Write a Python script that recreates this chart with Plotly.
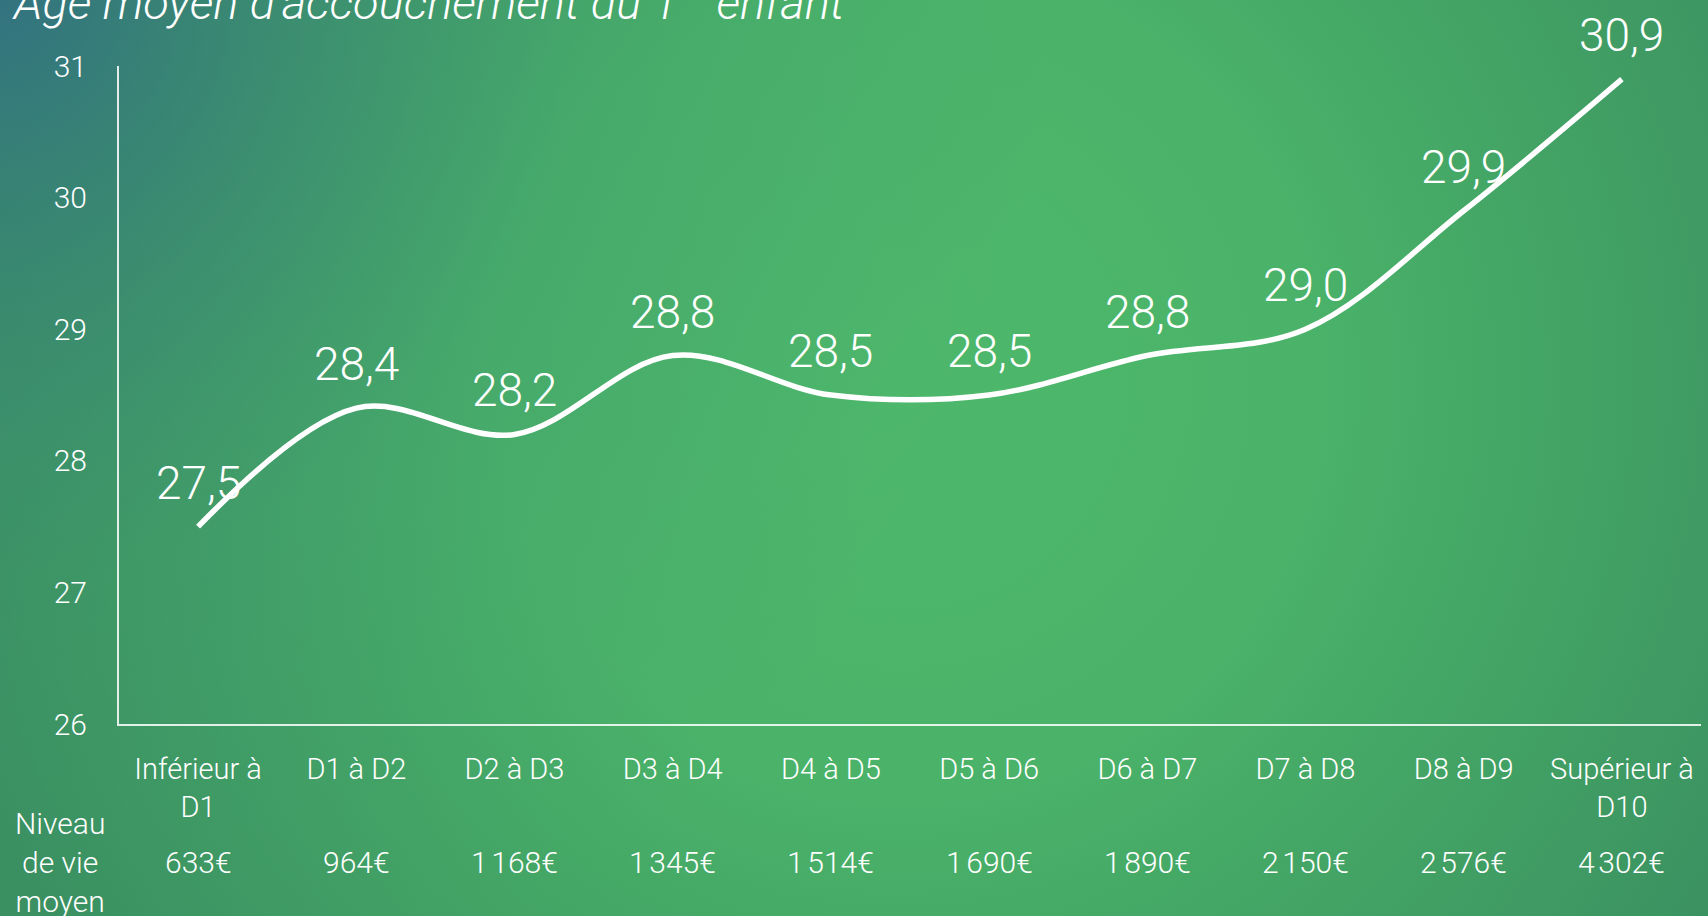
import base64
import plotly.graph_objects as go

# ---- data ----
categories = ["Inférieur à<br>D1", "D1 à D2", "D2 à D3", "D3 à D4", "D4 à D5",
              "D5 à D6", "D6 à D7", "D7 à D8", "D8 à D9", "Supérieur à<br>D10"]
ages = [27.5, 28.4, 28.2, 28.8, 28.5, 28.5, 28.8, 29.0, 29.9, 30.9]
niveau_vie = ["633€", "964€", "1\u202f168€", "1\u202f345€", "1\u202f514€",
              "1\u202f690€", "1\u202f890€", "2\u202f150€", "2\u202f576€", "4\u202f302€"]
y_ticks = [26, 27, 28, 29, 30, 31]
title_text = "Âge moyen d'accouchement du 1<sup>er</sup> enfant"
row_label = "Niveau<br>de vie<br>moyen"

FONT = "Roboto"
W, H = 1708, 916
ML, MR, MT, MB = 119, 7, 66, 192
PW, PH = W - ML - MR, H - MT - MB

svg = f"""<svg xmlns='http://www.w3.org/2000/svg' width='{W}' height='{H}' viewBox='0 0 {W} {H}' preserveAspectRatio='none'>
<defs>
<radialGradient id='r' gradientUnits='userSpaceOnUse' cx='900' cy='380' r='1000'>
<stop offset='0' stop-color='#4db86b'/>
<stop offset='0.4' stop-color='#4ab369'/>
<stop offset='1' stop-color='#3a9060'/>
</radialGradient>
<radialGradient id='t' gradientUnits='userSpaceOnUse' cx='0' cy='0' r='1050'>
<stop offset='0' stop-color='#337380' stop-opacity='1'/>
<stop offset='0.25' stop-color='#367d7a' stop-opacity='0.6'/>
<stop offset='0.55' stop-color='#3c8d72' stop-opacity='0.25'/>
<stop offset='1' stop-color='#3f9570' stop-opacity='0'/>
</radialGradient>
</defs>
<rect width='{W}' height='{H}' fill='url(#r)'/>
<rect width='{W}' height='{H}' fill='url(#t)'/>
</svg>"""
bg_uri = "data:image/svg+xml;base64," + base64.b64encode(svg.encode()).decode()

fig = go.Figure()
fig.add_trace(go.Scatter(
    x=categories, y=ages, mode="lines",
    line=dict(color="white", width=5.5, shape="spline", smoothing=1.0),
    hoverinfo="skip", showlegend=False,
))

annotations = []
for c, v in zip(categories, ages):
    annotations.append(dict(
        x=c, y=v, xref="x", yref="y", text=f"{v:.1f}".replace(".", ","),
        showarrow=False, yshift=44, yanchor="middle",
        font=dict(family=FONT, size=46, color="white", weight=300),
    ))
for i, t in enumerate(niveau_vie):
    annotations.append(dict(
        x=categories[i], y=(724 - 862) / PH, xref="x", yref="paper", text=t,
        showarrow=False, yanchor="middle",
        font=dict(family=FONT, size=30, color="white", weight=300),
    ))
annotations.append(dict(
    x=(60 - ML) / PW, y=(724 - 862) / PH, xref="paper", yref="paper",
    text=row_label, showarrow=False, xanchor="center", yanchor="middle",
    font=dict(family=FONT, size=30, color="white", weight=300),
))
annotations.append(dict(
    x=(10 - ML) / PW, y=(724 - 32) / PH, xref="paper", yref="paper",
    text=title_text, showarrow=False, xanchor="left", yanchor="bottom",
    font=dict(family=FONT, size=47, color="white", style="italic", weight=300),
))

fig.update_layout(
    width=W, height=H,
    margin=dict(l=ML, r=MR, t=MT, b=MB),
    paper_bgcolor="#48ab68", plot_bgcolor="rgba(0,0,0,0)",
    images=[dict(source=bg_uri, xref="paper", yref="paper",
                 x=-ML / PW, y=(PH + MT) / PH, sizex=W / PW, sizey=H / PH,
                 xanchor="left", yanchor="top", sizing="stretch", layer="below")],
    annotations=annotations,
    xaxis=dict(
        type="category", range=[-0.5, 9.5], showgrid=False, zeroline=False,
        showline=True, linecolor="rgba(255,255,255,0.85)", linewidth=2,
        ticks="", tickfont=dict(family=FONT, size=29, color="white", weight=300),
        ticklabelstandoff=18, fixedrange=True,
    ),
    yaxis=dict(
        range=[26, 31], tickvals=y_ticks, showgrid=False, zeroline=False,
        showline=True, linecolor="rgba(255,255,255,0.85)", linewidth=2,
        ticks="", tickfont=dict(family=FONT, size=30, color="white", weight=300),
        ticklabelstandoff=24, fixedrange=True,
    ),
)

fig.write_html("out.html", config={"displayModeBar": False},
               post_script="document.body.style.margin='0';document.body.style.overflow='hidden';")
